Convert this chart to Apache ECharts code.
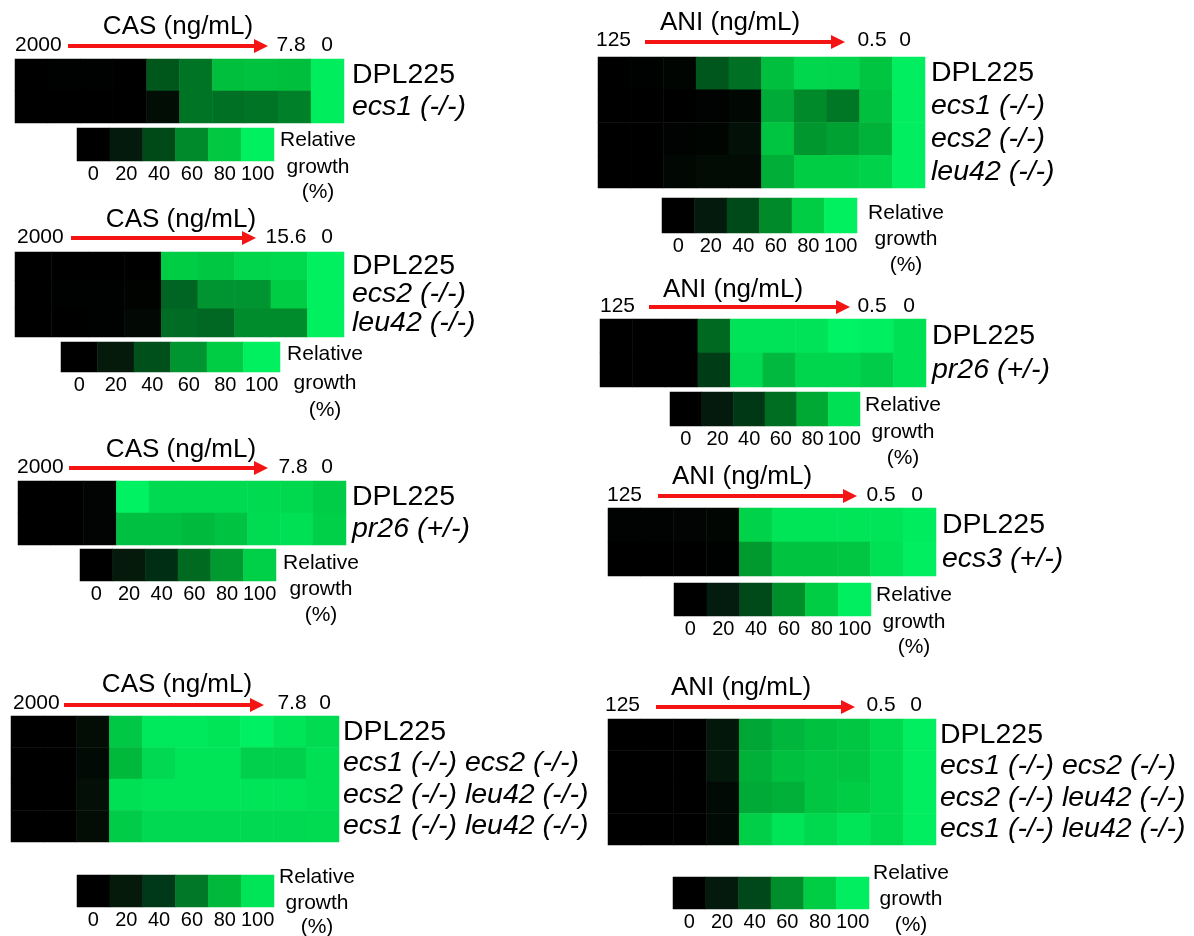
<!DOCTYPE html>
<html>
<head>
<meta charset="utf-8">
<script src="https://cdn.jsdelivr.net/npm/echarts@6/dist/echarts.min.js"></script>
<style>
html,body{margin:0;padding:0;background:#fff;}
#main{width:1194px;height:936px;}
</style>
</head>
<body>
<div id="main"></div>
<script>
// doses (ng/mL), highest -> lowest, last one is the no-drug control
const casDoses10 = ['2000','1000','500','250','125','62.5','31.3','15.6','7.8','0'];
const casDoses9 = ['2000','1000','500','250','125','62.5','31.3','15.6','0'];
const aniDoses = ['125','62.5','31.3','15.6','7.8','3.9','2.0','1.0','0.5','0'];
const growthSteps = [0, 20, 40, 60, 80, 100];

// relative growth (%), one list per strain row
const rowsA = ['DPL225', 'ecs1 (-/-)'];
const valsA = [
    [0, 1, 1, 0, 44, 53, 77, 78, 77, 99],
    [0, 0, 0, 0, 10, 53, 52, 53, 57, 99]
];
const rowsB = ['DPL225', 'ecs2 (-/-)', 'leu42 (-/-)'];
const valsB = [
    [0, 0, 0, 0, 80, 78, 85, 87, 100],
    [0, 1, 1, 2, 46, 60, 60, 80, 100],
    [0, 0, 1, 6, 48, 47, 57, 57, 100]
];
const rowsC = ['DPL225', 'pr26 (+/-)'];
const valsC = [
    [0, 0, 3, 117, 105, 105, 105, 105, 104, 99],
    [0, 0, 3, 94, 94, 92, 95, 106, 108, 100]
];
const rowsD = ['DPL225', 'ecs1 (-/-)', 'ecs2 (-/-)', 'leu42 (-/-)'];
const valsD = [
    [0, 1, 4, 44, 52, 76, 86, 85, 78, 99],
    [0, 0, 0, 2, 6, 70, 60, 54, 76, 99],
    [0, 0, 2, 4, 12, 78, 64, 67, 72, 99],
    [0, 0, 6, 9, 9, 71, 80, 80, 84, 99]
];
const rowsE = ['DPL225', 'pr26 (+/-)'];
const valsE = [
    [0, 0, 0, 58, 102, 102, 102, 112, 109, 100],
    [0, 0, 0, 42, 98, 86, 96, 96, 93, 100]
];
const rowsF = ['DPL225', 'ecs3 (+/-)'];
const valsF = [
    [2, 2, 3, 4, 84, 94, 94, 94, 94, 99],
    [0, 0, 0, 1, 64, 77, 77, 78, 92, 100]
];
const rowsG = ['DPL225', 'ecs1 (-/-) ecs2 (-/-)', 'ecs2 (-/-) leu42 (-/-)', 'ecs1 (-/-) leu42 (-/-)'];
const valsG = [
    [0, 0, 10, 87, 104, 104, 100, 109, 100, 96],
    [0, 0, 8, 80, 95, 100, 100, 91, 91, 98],
    [0, 0, 12, 98, 100, 100, 100, 100, 100, 98],
    [0, 0, 10, 89, 95, 95, 95, 95, 95, 96]
];
const rowsH = ['DPL225', 'ecs1 (-/-) ecs2 (-/-)', 'ecs2 (-/-) leu42 (-/-)', 'ecs1 (-/-) leu42 (-/-)'];
const valsH = [
    [0, 0, 0, 18, 68, 73, 76, 78, 87, 100],
    [0, 0, 0, 18, 71, 76, 78, 78, 87, 100],
    [0, 0, 0, 8, 69, 71, 78, 80, 87, 100],
    [0, 0, 0, 8, 82, 94, 87, 94, 87, 100]
];

const FONT = '"Liberation Sans", Arial, sans-serif';
const RED = '#f41414';

// each panel: data + where it sits on the page
const panels = [
    { drug: 'CAS', doses: casDoses10, rows: rowsA, vals: valsA,
      colors: ['#000000','#041a0c','#004a18','#008a2c','#00c840','#00f060','#30ff88'],
      heat: [15, 59, 329, 64], margin: 8, title: [178, 27], hi: [15, 45], arrow: [68, 268, 46],
      lo: [291, 45], zero: [327, 45], bar: [77, 128, 197, 33], rel: [318, 140, 167, 192] },
    { drug: 'CAS', doses: casDoses9, rows: rowsB, vals: valsB,
      colors: ['#000000','#061a0c','#00501c','#009530','#00cc44','#00f060','#30ff88'],
      heat: [15, 252, 329, 85], margin: 8, title: [181, 220], hi: [17, 237], arrow: [71, 256, 238],
      lo: [286, 237], zero: [327, 237], bar: [61, 342, 219, 30], rel: [325, 354, 383, 410] },
    { drug: 'CAS', doses: casDoses10, rows: rowsC, vals: valsC,
      colors: ['#000000','#061a0c','#002e14','#006a20','#009a30','#00d048','#00f868'],
      heat: [18, 481, 328, 64], margin: 6, title: [181, 450], hi: [17, 467], arrow: [69, 268, 468],
      lo: [293, 467], zero: [327, 467], bar: [80, 549, 196, 32], rel: [321, 563, 589, 615] },
    { drug: 'ANI', doses: aniDoses, rows: rowsD, vals: valsD,
      colors: ['#000000','#041a0c','#004a1a','#008a2a','#00cc44','#00f060','#30ff88'],
      heat: [598, 57, 327, 131], margin: 6, title: [730, 23], hi: [596, 40], arrow: [645, 845, 42],
      lo: [872, 40], zero: [905, 40], bar: [662, 198, 195, 35], rel: [906, 213, 239, 265] },
    { drug: 'ANI', doses: aniDoses, rows: rowsE, vals: valsE,
      colors: ['#000000','#041a0c','#003816','#006e22','#00a834','#00e055','#00ff70'],
      heat: [600, 319, 326, 68], margin: 6, title: [733, 290], hi: [600, 306], arrow: [649, 850, 307],
      lo: [872, 306], zero: [909, 306], bar: [670, 392, 190, 34], rel: [903, 405, 432, 458] },
    { drug: 'ANI', doses: aniDoses, rows: rowsF, vals: valsF,
      colors: ['#000000','#041c10','#004a1a','#008e2a','#00cc44','#00ee60','#30ff88'],
      heat: [608, 508, 328, 68], margin: 6, title: [742, 477], hi: [607, 495], arrow: [658, 857, 496],
      lo: [881, 495], zero: [917, 495], bar: [674, 583, 197, 33], rel: [914, 595, 622, 647] },
    { drug: 'CAS', doses: casDoses10, rows: rowsG, vals: valsG,
      colors: ['#000000','#061a0c','#00381a','#007828','#00b83a','#00e458','#00ff70'],
      heat: [11, 716, 328, 126], margin: 4, title: [177, 685], hi: [13, 703], arrow: [64, 264, 705],
      lo: [292, 703], zero: [325, 703], bar: [77, 875, 197, 32], rel: [317, 877, 903, 927] },
    { drug: 'ANI', doses: aniDoses, rows: rowsH, vals: valsH,
      colors: ['#000000','#041a0c','#00481a','#008e2c','#00cc44','#00ee60','#30ff88'],
      heat: [608, 719, 328, 126], margin: 4, title: [741, 688], hi: [605, 705], arrow: [656, 855, 707],
      lo: [881, 705], zero: [916, 705], bar: [673, 877, 196, 32], rel: [911, 873, 899, 925] }
];

function txt(s, x, y, size, align) {
    return {
        type: 'text', silent: true,
        style: { text: s, x: x, y: y, font: size + 'px ' + FONT, fill: '#000',
                 textAlign: align || 'center', textVerticalAlign: 'middle',
                 align: align || 'center', verticalAlign: 'middle' }
    };
}

const grid = [], xAxis = [], yAxis = [], series = [], visualMap = [], graphic = [];

panels.forEach(function (p, i) {
    const gi = i * 2, bi = i * 2 + 1;
    // heatmap
    grid.push({ left: p.heat[0], top: p.heat[1], width: p.heat[2], height: p.heat[3] });
    xAxis.push({ type: 'category', gridIndex: gi, data: p.doses, show: false });
    yAxis.push({
        type: 'category', gridIndex: gi, data: p.rows, inverse: true, position: 'right',
        axisLine: { show: false }, axisTick: { show: false },
        axisLabel: {
            margin: p.margin, interval: 0,
            formatter: function (v) { return v === 'DPL225' ? '{n|' + v + '}' : '{i|' + v + '}'; },
            rich: {
                n: { fontSize: 28.5, fontFamily: FONT, color: '#000' },
                i: { fontSize: 28.5, fontFamily: FONT, fontStyle: 'italic', color: '#000' }
            }
        }
    });
    const cells = [];
    p.vals.forEach(function (row, r) {
        row.forEach(function (v, c) { cells.push([c, r, v]); });
    });
    series.push({ type: 'heatmap', xAxisIndex: gi, yAxisIndex: gi, data: cells,
                  emphasis: { disabled: true }, silent: true });

    // colour key
    grid.push({ left: p.bar[0], top: p.bar[1], width: p.bar[2], height: p.bar[3] });
    xAxis.push({
        type: 'category', gridIndex: bi, data: growthSteps,
        axisLine: { show: false }, axisTick: { show: false },
        axisLabel: { interval: 0, margin: 3, fontSize: 20, fontFamily: FONT, color: '#000' }
    });
    yAxis.push({ type: 'category', gridIndex: bi, data: [''], show: false });
    series.push({ type: 'heatmap', xAxisIndex: bi, yAxisIndex: bi,
                  data: growthSteps.map(function (v, k) { return [k, 0, v]; }),
                  emphasis: { disabled: true }, silent: true });

    visualMap.push({ type: 'continuous', show: false, min: 0, max: 120, dimension: 2,
                     seriesIndex: [gi, bi], inRange: { color: p.colors } });

    // drug label, dose ends and red arrow
    graphic.push(txt(p.drug + ' (ng/mL)', p.title[0], p.title[1], 26));
    graphic.push(txt(p.doses[0], p.hi[0], p.hi[1], 21, 'left'));
    graphic.push(txt(p.doses[p.doses.length - 2], p.lo[0], p.lo[1], 21));
    graphic.push(txt(p.doses[p.doses.length - 1], p.zero[0], p.zero[1], 21));
    const a = p.arrow;
    graphic.push({ type: 'line', silent: true,
                   shape: { x1: a[0], y1: a[2], x2: a[1] - 12, y2: a[2] },
                   style: { stroke: RED, lineWidth: 4 } });
    graphic.push({ type: 'polygon', silent: true,
                   shape: { points: [[a[1] - 14, a[2] - 7], [a[1], a[2]], [a[1] - 14, a[2] + 7]] },
                   style: { fill: RED } });

    graphic.push(txt('Relative', p.rel[0], p.rel[1], 21));
    graphic.push(txt('growth', p.rel[0], p.rel[2], 21));
    graphic.push(txt('(%)', p.rel[0], p.rel[3], 21));
});

const chart = echarts.init(document.getElementById('main'));
chart.setOption({
    animation: false,
    backgroundColor: '#fff',
    grid: grid,
    xAxis: xAxis,
    yAxis: yAxis,
    visualMap: visualMap,
    series: series,
    graphic: graphic
});
window.addEventListener('resize', function () { chart.resize(); });
</script>
</body>
</html>
